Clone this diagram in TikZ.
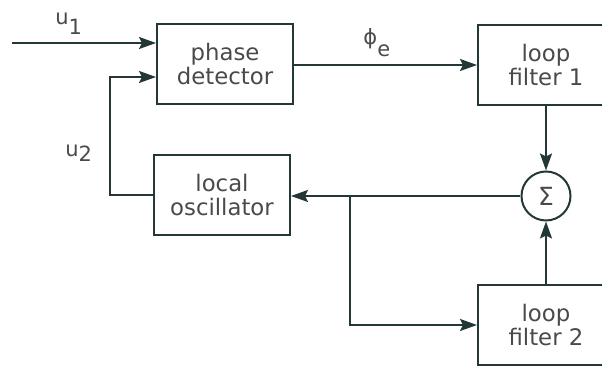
\documentclass[tikz,border=0pt]{standalone}
\usepackage{fontspec}
\setmainfont{DejaVu Sans}
\usetikzlibrary{arrows.meta}
\definecolor{linec}{HTML}{243737}
\definecolor{textc}{HTML}{4a4a4a}
\newcommand{\lowsub}[2]{\raisebox{-#1}{#2}}
\begin{document}
\begin{tikzpicture}[x=0.5pt,y=-0.5pt,
 block/.style={draw=linec, line width=1pt, minimum width=68pt, minimum height=40pt, align=center, text=textc, font=\fontsize{11.4}{11.6}\selectfont, inner sep=0pt},
 sumnode/.style={draw=linec, line width=1pt, circle, minimum size=24.5pt, inner sep=0pt, text=textc, font=\fontsize{12.5}{13}\selectfont},
 conn/.style={draw=linec, line width=1.1pt, -{Stealth[length=8.5pt,width=6pt,inset=1.5pt]}},
 lbl/.style={text=textc, font=\fontsize{10.5}{12}\selectfont, inner sep=0pt, anchor=base west}]
\useasboundingbox (0,0) rectangle (602,367);
\clip (0,0) rectangle (602,367);
\node[block] (pd) at (225,64) {phase\\detector};
\node[block] (lf1) at (546,65) {loop\\filter 1};
\node[block] (lo) at (222,195) {local\\oscillator};
\node[block] (lf2) at (546,325) {loop\\filter 2};
\node[sumnode] (sum) at (546,196) {Σ};
\coordinate (in1) at (12,43);
\coordinate (fb) at (110,77);
\coordinate (jn) at (350,196);
\node[lbl] (u1) at (55,25) {u\lowsub{5pt}{1}};
\node[lbl] (u2) at (65,157) {u\lowsub{2.5pt}{2}};
\node[lbl] (phie) at (363,45) {ϕ\lowsub{6pt}{e}};
\draw[conn] (in1) -- (in1 -| pd.west);
\draw[conn] (lo.west) -- (lo.west -| fb) -- (fb) -- (fb -| pd.west);
\draw[conn] (pd.east |- lf1.west) -- (lf1.west);
\draw[conn] (lf1.south) -- (sum.north);
\draw[conn] (sum.west) -- (sum.west -| lo.east);
\draw[conn] (sum.west -| jn) |- (lf2.west);
\draw[conn] (lf2.north) -- (sum.south);
\end{tikzpicture}
\end{document}
